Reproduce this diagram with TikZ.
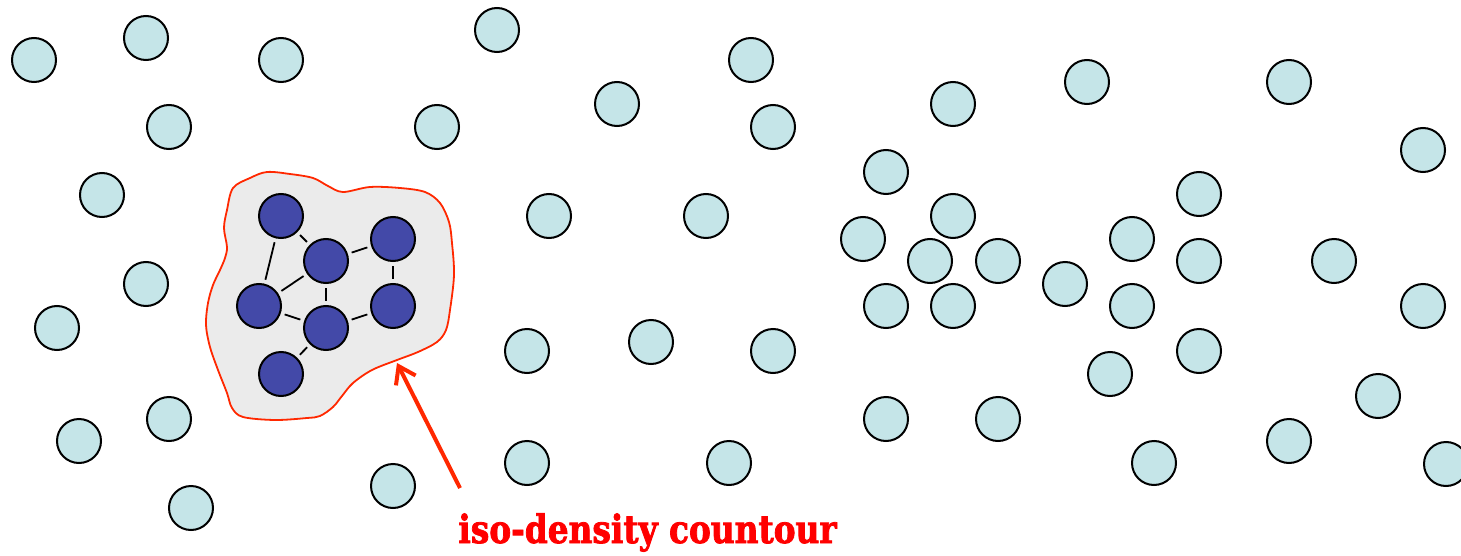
\documentclass[tikz,border=0pt]{standalone}
\usepackage{fontspec}
\newfontfamily\labelfont[BoldFont={DejaVu Serif Condensed Bold},
  BoldFeatures={FakeBold=2}]{DejaVu Serif Condensed}
\usetikzlibrary{arrows.meta}

\definecolor{sparsefill}{RGB}{197,229,232}
\definecolor{densefill}{RGB}{67,73,168}
\definecolor{contourred}{RGB}{255,40,0}
\definecolor{blobgray}{RGB}{235,235,235}

\tikzset{
  sparse/.style={circle, draw=black, line width=1pt, fill=sparsefill,
    minimum size=22pt, inner sep=0pt},
  dense/.style={sparse, fill=densefill},
  link/.style={black, line width=0.9pt, shorten <=2pt, shorten >=2pt},
}

\begin{document}
\begin{tikzpicture}[x=0.5pt, y=-0.5pt]
  \useasboundingbox (0,0) rectangle (1461,556);

  % contour round the dense group
  \fill[blobgray] plot[smooth cycle, tension=0.55] coordinates {
    (233,188) (250,178) (267,172) (290,174) (313,178) (328,186) (343,192)
    (370,187) (400,188) (425,192) (440,203) (449,222) (452,243) (454,275)
    (450,310) (446,330) (437,342) (418,352) (397,360) (372,370) (353,383)
    (342,396) (333,407) (320,416) (307,418) (275,420) (243,417) (232,408)
    (227,393) (218,370) (210,347) (206,325) (208,303) (213,285) (220,270)
    (225,258) (227,247) (224,228) (227,210)};
  \draw[contourred, line width=0.9pt] plot[smooth cycle, tension=0.55] coordinates {
    (233,188) (250,178) (267,172) (290,174) (313,178) (328,186) (343,192)
    (370,187) (400,188) (425,192) (440,203) (449,222) (452,243) (454,275)
    (450,310) (446,330) (437,342) (418,352) (397,360) (372,370) (353,383)
    (342,396) (333,407) (320,416) (307,418) (275,420) (243,417) (232,408)
    (227,393) (218,370) (210,347) (206,325) (208,303) (213,285) (220,270)
    (225,258) (227,247) (224,228) (227,210)};

  % dense group
  \node[dense] (d1) at (281,216) {};
  \node[dense] (d2) at (393,239) {};
  \node[dense] (d3) at (326,261) {};
  \node[dense] (d4) at (259,306) {};
  \node[dense] (d5) at (393,306) {};
  \node[dense] (d6) at (326,328) {};
  \node[dense] (d7) at (281,374) {};

  \draw[link] (d1) -- (d3);
  \draw[link] (d3) -- (d2);
  \draw[link] (d1) -- (d4);
  \draw[link] (d4) -- (d3);
  \draw[link] (d3) -- (d6);
  \draw[link] (d2) -- (d5);
  \draw[link] (d4) -- (d6);
  \draw[link] (d6) -- (d5);
  \draw[link] (d6) -- (d7);

  % scattered points
  \foreach \px/\py [count=\i] in {
      34/60, 146/38, 281/60, 497/30, 751/60,
      169/127, 437/127, 617/104, 773/127, 953/104, 1087/82, 1289/82,
      1423/150, 102/195, 886/172,
      549/216, 706/216, 953/216, 1199/194,
      863/239, 930/261, 998/261, 1132/239, 1199/261, 1334/261,
      146/284, 1065/284,
      57/328, 886/306, 953/306, 1132/306, 1423/306,
      527/351, 651/342, 773/351, 1199/351,
      1110/374, 1378/396,
      169/419, 79/441, 886/419, 998/419, 1289/441,
      527/463, 729/463, 1154/463, 1446/464,
      393/486, 191/508}
    \node[sparse] (s\i) at (\px,\py) {};

  % label and arrow
  \node[anchor=base west, inner sep=0pt, text=red, xscale=0.935,
        font=\labelfont\bfseries\fontsize{19.5}{22}\selectfont]
    (label) at (458,543) {iso-density countour};
  \coordinate (tail) at (460,488);
  \coordinate (tip) at (397,363);
  \draw[contourred, line width=2pt,
        -{Straight Barb[length=8pt, width=11pt, line width=2pt]}] (tail) -- (tip);
\end{tikzpicture}
\end{document}
